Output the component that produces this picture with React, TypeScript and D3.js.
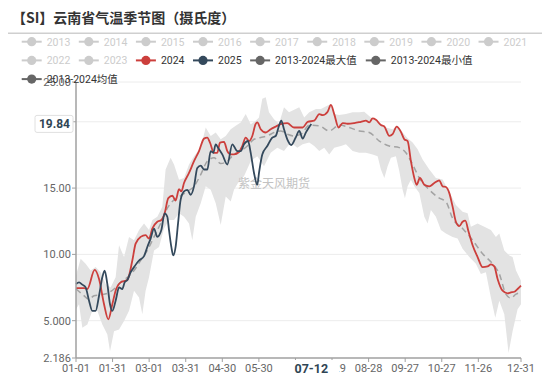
import React from "react";
import * as d3 from "d3";

// ---------- data (day-of-year offset from 01-01, value °C) ----------
const s2024: [number, number][] = [
  [0, 7.46], [6.6, 7.46], [9.3, 7.39], [15.3, 8.83], [18.9, 8.15], [23.0, 6.24], [26.5, 5.1], [29.8, 6.24],
  [32.5, 7.26], [36.6, 7.89], [42.1, 8.07], [46.2, 9.54], [48.9, 10.81], [53.0, 11.32], [57.1, 11.45], [59.9, 11.19],
  [62.6, 11.95], [66.7, 12.46], [70.0, 12.59], [72.7, 13.1], [75.7, 14.24], [79.0, 14.42], [81.7, 14.06], [84.5, 14.92],
  [86.4, 14.75], [88.6, 15.38], [92.7, 16.14], [96.8, 17.03], [100.9, 17.79], [105.0, 18.73], [107.7, 18.81], [109.9, 18.43],
  [113.2, 17.66], [115.9, 17.66], [118.1, 18.43], [121.4, 18.48], [124.1, 17.79], [126.9, 17.54], [129.6, 17.54], [133.7, 17.72],
  [136.4, 18.17], [139.2, 18.81], [141.9, 18.55], [144.6, 18.93], [147.3, 19.82], [148.7, 19.95], [151.5, 19.44], [155.6, 19.19],
  [159.7, 19.44], [163.8, 19.64], [167.9, 19.82], [173.3, 19.9], [178.8, 19.57], [186.0, 19.57], [190.0, 20.0], [195.4, 20.08],
  [199.5, 20.58], [202.3, 20.5], [206.4, 20.76], [209.1, 21.27], [211.8, 20.58], [215.4, 19.57], [218.7, 19.9], [222.8, 19.85],
  [228.2, 19.9], [233.7, 20.0], [237.8, 20.08], [240.5, 19.95], [243.3, 20.25], [246.0, 20.15], [250.1, 19.75], [252.9, 19.64],
  [257.0, 18.93], [259.7, 19.06], [263.0, 19.64], [266.5, 19.24], [269.3, 18.68], [272.0, 18.55], [274.7, 17.03], [277.5, 15.76],
  [279.4, 15.25], [282.1, 15.76], [285.7, 15.25], [289.8, 15.13], [293.9, 15.38], [298.0, 15.58], [300.7, 15.13], [303.4, 15.08],
  [306.2, 14.62], [308.9, 13.6], [311.6, 12.46], [314.4, 12.13], [317.1, 12.46], [319.3, 12.54], [322.0, 11.7], [325.3, 10.69],
  [329.4, 9.8], [333.5, 9.04], [337.6, 9.09], [340.3, 9.24], [343.1, 9.09], [345.8, 8.15], [349.9, 7.26], [354.0, 7.06],
  [356.7, 7.13], [359.5, 7.18], [362.2, 7.39], [365.0, 7.64],
];

const s2025: [number, number][] = [
  [0, 7.77], [2.5, 7.89], [5.2, 7.72], [7.9, 7.51], [10.7, 6.5], [13.4, 5.74], [16.1, 5.74], [18.9, 6.88],
  [21.6, 8.27], [23.5, 8.78], [25.7, 7.77], [27.9, 6.24], [29.8, 5.74], [32.5, 6.5], [35.3, 7.51], [38.0, 7.39],
  [39.9, 7.89], [42.1, 8.07], [44.8, 8.65], [47.6, 9.04], [51.7, 9.54], [55.8, 9.87], [58.5, 10.56], [61.2, 11.19],
  [64.0, 11.95], [66.7, 11.32], [70.0, 11.83], [72.7, 13.1], [74.9, 12.84], [76.3, 11.83], [78.2, 10.56], [79.8, 9.92],
  [81.7, 10.56], [83.7, 12.34], [85.8, 14.11], [88.6, 14.75], [91.3, 14.87], [94.1, 14.49], [96.8, 15.13], [99.5, 16.52],
  [102.3, 16.7], [105.0, 16.4], [107.7, 16.4], [110.5, 17.79], [112.6, 17.66], [114.6, 18.3], [116.5, 18.05], [120.0, 17.54],
  [124.1, 16.78], [128.2, 18.3], [132.3, 17.79], [135.1, 17.79], [137.8, 18.3], [141.1, 18.55], [143.3, 17.66], [146.0, 16.14],
  [148.7, 15.25], [150.1, 16.14], [152.8, 17.54], [156.9, 18.17], [161.0, 18.81], [163.8, 18.93], [166.5, 19.7], [168.4, 20.08],
  [170.6, 19.44], [173.3, 18.68], [176.6, 18.25], [180.2, 18.81], [183.1, 19.31], [185.9, 18.73], [188.6, 19.2], [190.5, 19.5],
  [193.0, 19.84],
];

const sMean: [number, number][] = [
  [0, 7.39], [5.2, 7.0], [10.7, 6.62], [14.8, 6.88], [20.2, 6.95], [25.7, 7.06], [31.2, 7.39], [36.6, 7.89],
  [42.1, 8.27], [47.6, 8.78], [53.0, 9.54], [58.5, 10.3], [64.0, 11.32], [69.4, 12.33], [74.9, 13.48], [80.4, 14.11],
  [85.8, 14.42], [91.3, 14.75], [96.8, 15.13], [102.3, 16.02], [107.7, 17.03], [113.2, 17.28], [118.7, 16.85], [124.1, 17.03],
  [129.6, 17.54], [135.1, 17.79], [140.5, 18.17], [146.0, 18.68], [151.5, 18.81], [156.9, 18.93], [162.4, 19.19], [167.9, 19.31],
  [173.3, 19.06], [178.8, 18.93], [185.0, 19.1], [191.3, 19.75], [199.5, 19.7], [207.7, 19.31], [216.0, 19.75], [224.1, 19.57],
  [232.3, 19.31], [240.5, 19.19], [248.8, 18.55], [257.0, 18.17], [265.2, 18.05], [270.6, 17.66], [276.1, 16.78], [281.6, 15.76],
  [289.8, 14.87], [298.0, 14.24], [303.4, 13.98], [308.9, 12.72], [317.1, 11.95], [325.3, 11.07], [333.5, 10.05], [341.7, 9.29],
  [347.2, 8.53], [352.6, 7.0], [356.7, 6.7], [360.9, 7.0], [365.0, 7.13],
];

const sMax: [number, number][] = [
  [0, 8.4], [3.8, 9.67], [7.9, 9.29], [12.0, 8.78], [16.1, 9.04], [20.2, 8.65], [24.3, 7.77], [28.4, 7.51],
  [32.5, 8.27], [35.3, 10.68], [39.4, 9.8], [43.5, 11.32], [47.6, 11.07], [51.7, 11.83], [55.8, 12.33], [59.9, 11.83],
  [62.6, 12.59], [66.7, 12.84], [70.8, 13.6], [73.5, 16.4], [77.6, 17.28], [80.4, 16.78], [84.5, 15.63], [88.6, 15.76],
  [92.7, 16.78], [96.8, 17.41], [102.3, 18.05], [106.4, 19.57], [110.5, 18.93], [114.6, 19.19], [118.7, 18.68], [122.8, 18.93],
  [126.9, 19.44], [131.0, 19.7], [135.1, 19.95], [139.2, 20.58], [143.3, 19.82], [147.4, 20.08], [150.1, 20.33], [152.8, 21.73],
  [155.6, 21.85], [158.3, 20.71], [162.4, 20.2], [166.5, 19.85], [170.6, 21.09], [174.7, 20.71], [180.2, 20.96], [183.1, 21.09],
  [187.2, 20.33], [191.3, 20.71], [196.8, 20.96], [200.9, 20.96], [206.4, 21.22], [209.1, 21.35], [211.8, 20.58], [215.9, 20.51],
  [221.4, 20.58], [226.9, 20.71], [232.3, 20.71], [236.4, 20.76], [241.9, 20.33], [246.0, 20.2], [250.1, 19.82], [254.2, 19.57],
  [259.7, 19.44], [263.8, 19.7], [267.9, 19.19], [272.0, 18.75], [276.1, 18.43], [280.2, 17.92], [284.3, 17.16], [289.8, 16.4],
  [295.2, 15.76], [300.7, 15.65], [306.2, 14.7], [311.6, 13.73], [317.1, 13.22], [321.2, 13.1], [323.9, 12.08], [329.4, 12.33],
  [334.9, 12.08], [340.3, 11.83], [344.4, 11.32], [347.2, 11.57], [351.3, 10.3], [355.4, 9.92], [358.1, 9.8], [360.9, 8.78],
  [363.6, 8.27], [365.0, 8.02],
];

const sMin: [number, number][] = [
  [0, 5.86], [2.5, 6.24], [5.2, 4.47], [9.3, 4.72], [13.4, 5.74], [17.5, 5.74], [21.6, 4.72], [25.7, 3.96],
  [27.9, 2.69], [31.2, 4.21], [35.3, 4.34], [39.4, 4.97], [43.5, 5.74], [47.6, 7.26], [51.7, 6.75], [54.4, 5.48],
  [57.1, 7.26], [59.9, 8.27], [64.0, 10.3], [68.1, 10.56], [72.2, 11.95], [76.3, 12.59], [80.4, 12.59], [84.5, 13.1],
  [88.6, 12.84], [92.7, 12.33], [95.4, 11.07], [98.2, 12.84], [102.3, 13.86], [106.4, 15.13], [110.5, 14.87], [114.6, 13.86],
  [118.7, 12.21], [122.8, 14.37], [126.9, 13.98], [129.6, 14.87], [133.7, 15.51], [137.8, 15.89], [143.3, 17.03], [148.7, 17.41],
  [154.2, 16.65], [159.7, 17.66], [165.1, 18.05], [170.6, 17.79], [176.1, 18.43], [181.5, 18.05], [185.9, 18.3], [191.3, 18.43],
  [195.4, 18.17], [199.5, 17.79], [203.6, 18.05], [207.7, 17.54], [211.8, 18.05], [217.3, 18.17], [221.4, 18.3], [226.9, 17.79],
  [232.3, 17.66], [237.8, 17.66], [243.3, 17.54], [247.4, 17.41], [250.1, 16.4], [252.9, 15.76], [255.6, 16.65], [258.3, 17.28],
  [262.4, 17.41], [265.2, 16.27], [267.9, 14.87], [269.8, 14.24], [272.0, 15.13], [274.7, 15.63], [277.5, 15.13], [281.6, 14.62],
  [285.7, 12.84], [288.4, 12.33], [291.1, 13.35], [295.2, 12.84], [299.3, 11.83], [303.4, 11.57], [308.9, 11.32], [313.0, 11.19],
  [317.1, 10.43], [322.6, 9.8], [328.0, 9.29], [332.1, 8.53], [336.2, 8.65], [340.3, 6.75], [343.9, 5.23], [347.2, 6.5],
  [351.3, 5.48], [354.8, 2.56], [358.1, 4.21], [362.2, 5.86], [365.0, 6.24],
];

const xTickDays = [0, 30, 60, 90, 120, 150, 180, 210, 240, 270, 300, 330, 365];
const xHiddenLabelDays = [180];
const yTickValues = [2.186, 5, 10, 15, 20, 23];
const yTickLabels = ["2.186", "5.000", "10.00", "15.00", "", "25.00"];
const legendNames = [
  "2013", "2014", "2015", "2016", "2017", "2018", "2019", "2020", "2021", "2022", "2023",
  "2024", "2025", "2013-2024最大值", "2013-2024最小值", "2013-2024均值",
];
const pointerDay = 193;
const pointerValue = 19.84;
const title = "【SI】云南省气温季节图（摄氏度）";
const watermark = "紫金天风期货";

// ---------- styling ----------
const W = 550;
const H = 378;
const FONT = "Roboto, 'Noto Sans CJK SC', sans-serif";
const RED = "#cc3f3c";
const NAVY = "#34495c";
const GREY = "#cccccc";
const DARK = "#666666";

function legendColor(name: string) {
  if (name === "2024") return RED;
  if (name === "2025") return NAVY;
  if (name.startsWith("2013-")) return DARK;
  return GREY;
}

function textWidth(s: string, size: number) {
  let w = 0;
  for (const ch of s) {
    if (/[0-9]/.test(ch)) w += 0.562 * size;
    else if (ch === "-") w += 0.33 * size;
    else if (ch.charCodeAt(0) > 0x2e80) w += size;
    else w += 0.55 * size;
  }
  return w;
}

export default function App() {
  const x = d3.scaleLinear().domain([0, 365]).range([76, 521]);
  const y = d3.scaleLinear().domain([2.186, 23]).range([358, 82]);
  const x0 = x(0);
  const x1 = x(365);

  const smooth = d3
    .line<[number, number]>()
    .x((d) => x(d[0]))
    .y((d) => y(d[1]))
    .curve(d3.curveMonotoneX);
  const straight = d3
    .line<[number, number]>()
    .x((d) => x(d[0]))
    .y((d) => y(d[1]));

  const upper = straight(sMax) || "";
  const lower = straight(sMin.slice().reverse()) || "";
  const bandPath = upper + "L" + lower.slice(1) + "Z";

  const fmt = d3.timeFormat("%m-%d");
  const dayLabel = (d: number) => fmt(new Date(2024, 0, 1 + d));

  // legend layout
  const lgSize = 10.5;
  const legendItems: { name: string; x: number; y: number }[] = [];
  let lx = 21.7;
  let ly = 41.7;
  for (const name of legendNames) {
    const w = 25 + textWidth(name, lgSize);
    if (lx + w > 530) {
      lx = 21.7;
      ly += 18.7;
    }
    legendItems.push({ name, x: lx, y: ly });
    lx += w + 8.5;
  }

  const px = x(pointerDay);
  const py = y(pointerValue);

  return (
    <div style={{ position: "absolute", left: 0, top: 0, width: W, height: H, background: "#fff" }}>
      <svg width={W} height={H} style={{ display: "block" }} fontFamily={FONT}>
        {/* title */}
        <text x={12} y={23} fontSize={14} fontWeight="bold" fill="#333" fontFamily="'Noto Sans CJK SC', sans-serif">
          {title}
        </text>
        <line x1={8} x2={542} y1={33.3} y2={33.3} stroke="#cfcfcf" strokeWidth={1.5} />

        {/* grid */}
        {yTickValues.slice(1).map((v) => (
          <line key={"g" + v} x1={x0} x2={x1} y1={y(v)} y2={y(v)} stroke="#ececec" strokeWidth={1} />
        ))}

        {/* band */}
        <path d={bandPath} fill="#e3e3e3" stroke="none" />

        {/* watermark */}
        <text x={274} y={188} fontSize={12} fill="#c2c2c2" textAnchor="middle" fontFamily="'Noto Sans CJK SC', sans-serif">
          {watermark}
        </text>

        {/* series */}
        <path d={smooth(sMean) || ""} fill="none" stroke="#a3a3a3" strokeWidth={1.5} strokeDasharray="6,4" />
        <path d={smooth(s2024) || ""} fill="none" stroke={RED} strokeWidth={1.8} />
        <path d={smooth(s2025) || ""} fill="none" stroke={NAVY} strokeWidth={1.8} />

        {/* axes */}
        <line x1={x0} x2={x0} y1={82} y2={358} stroke="#a0a0a0" strokeWidth={1.5} />
        <line x1={x0} x2={x1} y1={358} y2={358} stroke="#a0a0a0" strokeWidth={1.5} />
        {yTickValues.map((v, i) => (
          <g key={"yt" + v}>
            <line x1={x0 - 4} x2={x0} y1={y(v)} y2={y(v)} stroke="#a0a0a0" strokeWidth={1} />
            {yTickLabels[i] ? (
              <text x={x0 - 5} y={y(v) + 4} fontSize={11} fill="#666" textAnchor="end">
                {yTickLabels[i]}
              </text>
            ) : null}
          </g>
        ))}
        {xTickDays.map((d) => (
          <g key={"xt" + d}>
            <line x1={x(d)} x2={x(d)} y1={358} y2={362} stroke="#a0a0a0" strokeWidth={1} />
            {xHiddenLabelDays.includes(d) ? null : (
              <text x={x(d)} y={372} fontSize={11} fill="#666" textAnchor="middle">
                {dayLabel(d)}
              </text>
            )}
          </g>
        ))}

        {/* axis pointer labels */}
        <rect x={px - 28} y={360} width={56} height={18} fill="#fff" />
        <text x={px} y={373} fontSize={12.5} fontWeight="bold" fill="#2f4554" textAnchor="middle">
          {dayLabel(pointerDay)}
        </text>
        <rect x={35} y={py - 8.5} width={38} height={17} rx={2} fill="#fff" stroke="#e0e0e0" strokeWidth={1} />
        <text x={54.5} y={py + 4.3} fontSize={12} fontWeight="bold" fill="#2f4554" textAnchor="middle">
          {pointerValue.toFixed(2)}
        </text>

        {/* legend */}
        {legendItems.map((it) => {
          const c = legendColor(it.name);
          const tc = c === GREY ? GREY : "#333";
          return (
            <g key={"lg" + it.name}>
              <line x1={it.x} x2={it.x + 20} y1={it.y} y2={it.y} stroke={c} strokeWidth={2} />
              <circle cx={it.x + 10} cy={it.y} r={4.6} fill={c} />
              <text x={it.x + 25} y={it.y + 3.8} fontSize={lgSize} fill={tc}>
                {it.name}
              </text>
            </g>
          );
        })}
      </svg>
    </div>
  );
}
